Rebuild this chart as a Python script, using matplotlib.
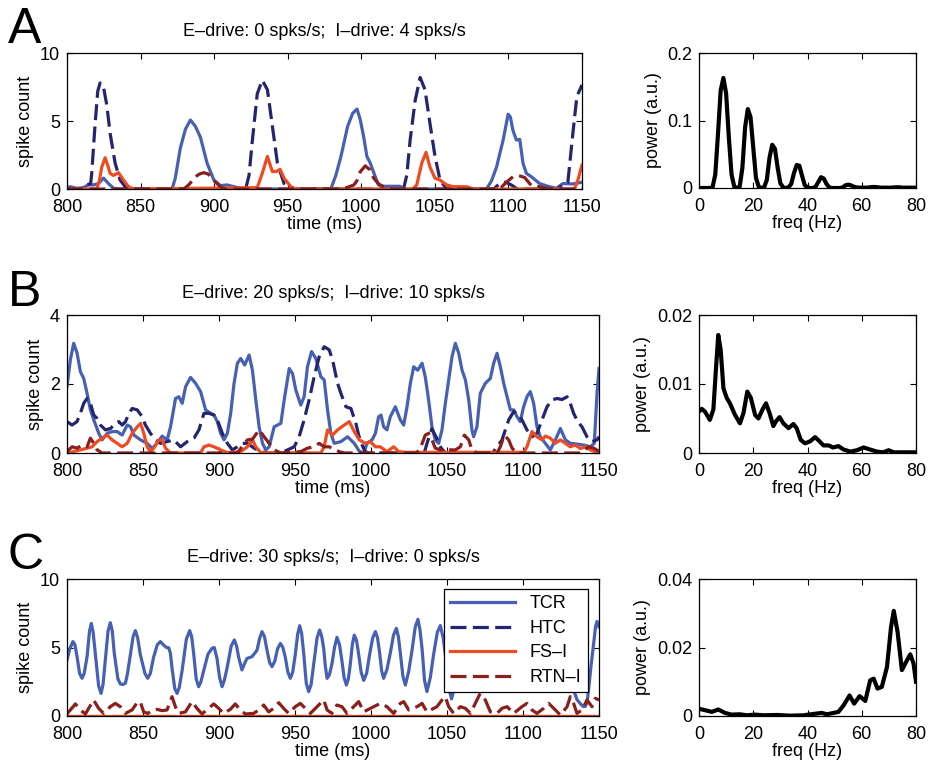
import matplotlib
matplotlib.use("Agg")
import matplotlib.pyplot as plt
from matplotlib.lines import Line2D

plt.rcParams['font.family'] = ['Liberation Sans', 'DejaVu Sans']
plt.rcParams['font.size'] = 13

C_TCR = '#4661b4'
C_HTC = '#25246f'
C_FSI = '#ef4b22'
C_RTN = '#8a1f1c'

# ---------------- Panel A (E-drive 0, I-drive 4) ----------------
a_tcr_t = [800, 802, 806.6, 811, 814.5, 818, 821.4, 824.8, 828.2, 831.6, 836, 871.4, 873.6, 877, 880.5,
           883.9, 887.3, 890.7, 895.2, 899.8, 904.3, 908.9, 912.3, 920.2, 979.3, 982.7, 986.2, 990.7,
           994.1, 997.1, 999.3, 1001.6, 1003.8, 1006.1, 1009.5, 1011.7, 1015.1, 1020.8, 1026.4, 1028.7,
           1085.1, 1088.5, 1091.9, 1096.4, 1099.8, 1101.3, 1103.1, 1105.4, 1107.7, 1109.9, 1112.2,
           1115.6, 1121.2, 1126.8, 1132.5, 1137, 1143.8, 1150]
a_tcr_v = [0.1, 0.17, 0.05, 0.1, 0.3, 0.3, 0.4, 0.8, 0.4, 0.05, 0, 0, 0.8, 3.0, 4.4,
           5.07, 4.6, 3.8, 1.9, 0.66, 0.25, 0.3, 0.2, 0, 0, 1.0, 2.4, 4.6,
           5.56, 5.88, 5.1, 3.85, 2.4, 1.9, 0.9, 0.3, 0.2, 0.2, 0.2, 0,
           0, 0.6, 1.6, 3.6, 5.5, 5.3, 4.3, 3.6, 3.65, 1.9, 1.15,
           0.9, 0.4, 0.2, 0.05, 0.4, 0.37, 0.5]

a_htc_t = [800, 811.1, 813.4, 816.1, 816.8, 819.1, 820.9, 822.5, 824.8, 827, 829.3, 832.7, 836.1, 840.7,
           921.4, 923.7, 926, 929.3, 932.7, 936.2, 939.6, 943, 947.5, 952.1,
           1028.7, 1030.9, 1033.2, 1036.6, 1040, 1043.3, 1046.7, 1050.1, 1053.5, 1058,
           1090, 1094, 1098, 1102, 1106, 1133.6, 1137, 1140.4, 1143.8, 1146.5, 1150]
a_htc_v = [0, 0, 0.3, 0.4, 1.15, 4.8, 7.2, 7.8, 7.5, 6.2, 4.1, 1.9, 0.66, 0,
           0, 1.0, 3.6, 7.0, 8.0, 7.3, 4.6, 1.9, 0.4, 0,
           0, 1.0, 3.6, 6.5, 8.2, 7.3, 4.8, 2.4, 0.66, 0,
           0, 0.4, 0.5, 0.3, 0, 0, 0.3, 0.5, 4.1, 6.8, 7.65]

a_fsi_t = [800, 820.2, 822, 823.6, 825.9, 827.5, 829.3, 831.6, 835, 838.4, 841.8, 845.2,
           929.3, 932.7, 936.2, 939.6, 942.5, 944.8, 947.5, 952.1, 955.5,
           1035, 1037.7, 1041.1, 1044, 1046.7, 1050.1, 1053.5, 1058, 1062.5, 1071.5, 1076.1,
           1144.9, 1147.2, 1150]
a_fsi_v = [0, 0, 0.6, 1.6, 2.3, 1.8, 1.15, 1.0, 1.2, 0.66, 0.17, 0,
           0.1, 1.15, 2.4, 1.27, 1.3, 1.45, 0.8, 0.17, 0,
           0, 0.3, 1.9, 2.7, 1.6, 0.8, 0.66, 0.3, 0.17, 0.17, 0,
           0, 0.66, 1.76]

a_rtn_t = [800, 879.3, 882.7, 887.3, 890, 893, 896, 899, 902, 905, 908,
           985, 990, 995, 997, 999.3, 1002.7, 1006, 1008.4, 1011.8, 1015, 1020,
           1094, 1098.6, 1103.1, 1106.5, 1111, 1115.6, 1121.2, 1125.7, 1130, 1150]
a_rtn_v = [0, 0, 0.3, 0.9, 1.1, 1.2, 1.1, 0.7, 0.4, 0.1, 0,
           0, 0.1, 0.3, 0.6, 1.27, 1.7, 1.4, 0.8, 0.37, 0.17, 0,
           0, 0.5, 0.9, 1.0, 0.85, 0.25, 0.17, 0.05, 0, 0]

# ---------------- Panel B (E-drive 20, I-drive 10) ----------------
b_tcr_t = [800.0, 802.2, 804.4, 806.6, 808.8, 811.0, 813.2, 815.4, 817.6, 820.9, 823.1, 826.4, 829.7,
           833.0, 836.3, 839.6, 841.8, 844.0, 848.4, 852.7, 856.0, 859.3, 862.6, 865.9, 868.1, 871.4,
           873.6, 875.8, 878.0, 881.3, 884.6, 887.9, 891.2, 894.5, 896.7, 898.9, 901.1, 903.3, 905.5,
           907.7, 909.9, 912.1, 914.3, 916.9, 919.8, 922.0, 924.2, 926.4, 928.6, 930.8, 933.0, 936.3,
           938.5, 940.7, 942.9, 946.2, 948.4, 950.5, 953.8, 956.0, 958.2, 960.9, 963.7, 967.0, 969.2,
           971.4, 973.6, 975.8, 980.2, 984.6, 989.0, 992.3, 995.2, 997.4, 1000.7, 1002.9, 1005.0,
           1006.6, 1008.3, 1010.5, 1012.7, 1016.0, 1019.3, 1021.5, 1023.7, 1025.9, 1028.1, 1030.7,
           1033.6, 1035.7, 1037.9, 1040.1, 1042.3, 1044.5, 1046.7, 1048.9, 1051.1, 1053.3, 1055.5,
           1057.7, 1059.9, 1062.1, 1064.3, 1066.4, 1067.5, 1069.7, 1071.9, 1075.2, 1078.5, 1080.7,
           1082.9, 1085.1, 1087.3, 1089.5, 1091.7, 1093.9, 1096.1, 1098.2, 1100.4, 1102.6, 1104.8,
           1107.0, 1109.2, 1111.4, 1114.7, 1118.0, 1121.3, 1124.6, 1127.9, 1131.1, 1135.5, 1139.9,
           1144.3, 1146.9, 1148.7, 1150.0]
b_tcr_v = [1.92, 2.7, 3.18, 2.9, 2.36, 2.16, 1.73, 1.25, 0.96, 0.57, 0.38, 0.57, 0.62,
           0.62, 0.52, 0.81, 0.76, 0.52, 0.38, 0.28, 0.14, 0.28, 0.49, 0.38, 0.76, 1.58,
           1.63, 1.44, 1.92, 2.19, 2.02, 1.78, 1.25, 1.15, 1.1, 0.91, 0.57, 0.38, 0.57,
           1.15, 2.02, 2.6, 2.74, 2.55, 2.84, 2.4, 1.54, 0.76, 0.28, 0.09, 0.18, 0.76,
           0.81, 0.86, 1.54, 2.45, 2.3, 1.83, 1.39, 1.63, 2.5, 2.94, 2.74, 2.21, 2.12,
           1.25, 0.57, 0.28, 0.33, 0.47, 0.28, 0.05, 0.0, 0.28, 0.38, 0.57, 1.05,
           1.1, 0.76, 0.67, 1.05, 1.34, 0.96, 0.81, 1.34, 2.02, 2.5, 2.4,
           2.6, 2.21, 1.54, 0.76, 0.38, 0.28, 0.67, 1.44, 2.12, 2.79, 3.18,
           2.89, 2.4, 2.12, 1.54, 0.67, 0.47, 0.76, 1.73, 2.02, 2.16, 2.6,
           2.89, 2.5, 2.02, 1.63, 1.25, 1.25, 1.05, 0.91, 1.34, 1.63, 1.78,
           1.44, 0.76, 0.47, 0.28, 0.09, 0.38, 0.71, 0.38, 0.28, 0.26, 0.23,
           0.18, 0.28, 1.73, 2.45]

b_htc_t = [800, 803.3, 806.6, 808.8, 811.0, 813.2, 815.4, 817.6, 819.8, 822.0, 825.3, 828.6, 831.9,
           834.1, 836.3, 838.5, 840.7, 842.9, 846.2, 849.5, 851.6, 854.9, 858.2, 861.5, 865.9, 870.3,
           874.7, 879.1, 883.5, 886.8, 890.1, 893.4, 896.7, 898.9, 902.2, 905.5, 908.8, 912.1, 915.4,
           918.7, 923.1, 927.5, 931.9, 940.7, 945.1, 949.5, 952.7, 956.0, 959.3, 962.6, 965.9, 969.2,
           972.5, 974.7, 978.0, 980.2, 983.5, 986.8, 990.1, 992, 994, 996, 998,
           1035, 1037, 1040, 1043, 1046, 1049,
           1080, 1082.9, 1086.2, 1088.4, 1090.6, 1093.9, 1096.1, 1099.3, 1102.6, 1105.9, 1109.2,
           1112.5, 1115.8, 1119.1, 1122.4, 1125.7, 1129.0, 1131.1, 1133.3, 1136.0, 1138.8, 1142.1,
           1145.4, 1148.7, 1150]
b_htc_v = [0.91, 0.81, 0.91, 1.15, 1.44, 1.58, 1.44, 1.1, 1.0, 0.81, 0.67, 0.71, 0.86,
           0.91, 0.81, 0.91, 1.15, 1.29, 1.25, 1.05, 0.81, 0.57, 0.38, 0.28, 0.33, 0.38,
           0.18, 0.33, 0.43, 0.67, 1.15, 1.15, 1.1, 0.96, 0.57, 0.28, 0.09, 0.18, 0.28,
           0.28, 0.14, 0.04, 0.0, 0.0, 0.09, 0.18, 0.47, 0.96, 1.54, 2.21, 2.79, 3.08,
           2.99, 2.7, 2.02, 1.73, 1.34, 1.29, 0.85, 0.5, 0.25, 0.05, 0.0,
           0.0, 0.3, 0.7, 0.45, 0.15, 0.0,
           0.0, 0.18, 0.38, 0.67, 0.96, 1.2, 1.15, 0.96, 0.67, 0.47, 0.57,
           0.96, 1.34, 1.54, 1.58, 1.55, 1.63, 1.44, 1.15, 0.91, 0.76, 0.47,
           0.33, 0.38, 0.47]

b_fsi_t = [800, 804.4, 808.8, 813.2, 816.5, 819.8, 823.1, 826.4, 829.7, 833.0, 836.3, 839.6, 842.9,
           846.2, 848.4, 850.5, 852.7, 854.9, 857.1, 860.4, 862.6, 864.8, 868.1, 887.9, 890.1, 893.4,
           896.7, 901.1, 905.5, 914.3, 918.7, 922.0, 924.2, 927.5, 967.0, 969.2, 971.4, 974.7, 978.0,
           982.4, 985.7, 989.0, 992.3, 996.3, 999.6, 1002.9, 1006.1, 1010.5, 1014.9, 1018.2, 1022.6,
           1100.4, 1102.6, 1105.9, 1109.2, 1112.5, 1114.7, 1118.0, 1121.3, 1124.6, 1127.9, 1131.1,
           1134.4, 1137.7, 1141.0, 1144.3, 1150]
b_fsi_v = [0, 0.04, 0.09, 0.14, 0.18, 0.33, 0.43, 0.52, 0.38, 0.28, 0.18, 0.28, 0.57,
           0.76, 0.86, 0.57, 0.18, 0.04, 0.14, 0.38, 0.38, 0.14, 0.0, 0.0, 0.18, 0.23,
           0.18, 0.09, 0.01, 0.04, 0.18, 0.38, 0.18, 0.01, 0.0, 0.18, 0.67, 0.52, 0.67,
           0.81, 0.91, 0.62, 0.38, 0.28, 0.33, 0.18, 0.18, 0.04, 0.18, 0.04, 0.02,
           0.02, 0.18, 0.62, 0.47, 0.38, 0.49, 0.43, 0.28, 0.38, 0.28, 0.18,
           0.23, 0.13, 0.18, 0.09, 0.0]

b_rtn_t = [800, 803.3, 806.6, 809.9, 813.2, 815.4, 817.6, 819.8, 823.1, 912.1, 915.4, 918.7, 922,
           926.4, 929.7, 933, 936.3, 940.7, 953.8, 958.2, 962.6, 965.9, 969.2, 972.5, 975.8, 979.1,
           982.4, 1030, 1032.5, 1035.7, 1037.9, 1040.1, 1042.3, 1045.6, 1050, 1055.5, 1058.8,
           1061.4, 1064.3, 1066.4, 1069.7, 1082.9, 1085.1, 1087.7, 1090.6, 1092.8, 1096.1, 1137.7,
           1143.2, 1146.5, 1150]
b_rtn_v = [0.04, 0.18, 0.14, 0.23, 0.18, 0.43, 0.28, 0.09, 0.0, 0.0, 0.2, 0.38, 0.4,
           0.67, 0.47, 0.28, 0.09, 0.0, 0.04, 0.14, 0.18, 0.28, 0.18, 0.18, 0.1, 0.04,
           0.0, 0.0, 0.14, 0.52, 0.57, 0.38, 0.14, 0.09, 0.09, 0.09, 0.18,
           0.52, 0.38, 0.09, 0.0, 0.0, 0.18, 0.52, 0.38, 0.14, 0.0, 0.0,
           0.18, 0.14, 0.05]

# ---------------- Panel C (E-drive 30, I-drive 0) ----------------
c_tcr_t = [800, 801.8, 803.9, 805.2, 806.6, 808.3, 809.9, 811.3, 813.2, 814.8, 816.0, 817.2, 818.6,
           820.8, 822.4, 823.7, 825.2, 827.0, 828.5, 829.8, 831.1, 833.5, 835.1, 836.8, 838.4, 839.8,
           841.7, 843.5, 845.0, 846.5, 848.2, 851.3, 853.1, 854.8, 857.0, 859.4, 861.4, 863.4, 865.4,
           866.9, 868.0, 869.1, 870.9, 872.4, 873.9, 875.7, 878.5, 880.7, 882.0, 883.3, 885.0, 886.6,
           888.1, 889.9, 892.7, 895.4, 896.9, 898.7, 900.4, 902.0, 903.5, 905.3, 908.0, 910.1, 911.6,
           912.9, 915.1, 916.7, 918.4, 921.7, 925.0, 926.8, 928.3, 929.9, 931.6, 933.3, 934.9, 936.7,
           938.5, 940.4, 942.0, 943.6, 945.3, 946.9, 948.5, 950.2, 951.8, 953.1, 954.4, 955.7, 957.4,
           959.0, 960.6, 962.3, 964.5, 966.2, 967.6, 968.9, 970.0, 971.1, 972.6, 974.3, 976.0, 977.6,
           979.3, 980.9, 982.3, 983.8, 985.1, 986.4, 987.7, 989.0, 990.5, 991.9, 993.5, 995.2, 997.1,
           999.1, 1001.1, 1002.9, 1004.3, 1005.7, 1007.0, 1008.3, 1010.5, 1012.7, 1014.8, 1016.7,
           1018.0, 1019.3, 1021.0, 1022.6, 1024.7, 1027.0, 1029.1, 1030.9, 1032.2, 1033.6, 1035.2,
           1036.8, 1039.0, 1041.2, 1043.6, 1045.6, 1047.5, 1049.5, 1051.3, 1053.0, 1054.7, 1056.5,
           1058.3, 1060, 1061.5, 1063, 1064.5, 1066, 1067.7, 1069.5, 1071.3, 1073, 1074.8, 1076.5,
           1078.3, 1080, 1081.7, 1083.5, 1085.3, 1087, 1088.5, 1090, 1091.5, 1093, 1094.8, 1096.5,
           1098.3, 1100, 1101.8, 1103.5, 1105.3, 1107, 1108.8, 1110.5, 1112.3, 1114, 1115.5, 1117,
           1118.5, 1120, 1121.7, 1123.5, 1125.3, 1127, 1128.5, 1130, 1131.5, 1133, 1135.5, 1137.7,
           1139.5, 1141, 1142.2, 1143.2, 1144.9, 1146.5, 1147.7, 1148.7, 1149.5, 1150]
c_tcr_v = [4.09, 4.9, 5.43, 5.2, 4.33, 3.1, 2.75, 3.1, 4.33, 6.2, 6.76, 6.1, 4.57,
           2.2, 1.65, 2.3, 4.09, 6.2, 6.81, 6.2, 4.57, 2.7, 2.34, 2.3, 2.39, 3.1,
           4.5, 5.8, 6.23, 5.7, 4.5, 3.1, 2.75, 3.1, 4.3, 5.2, 5.43, 5.2, 5.0,
           4.98, 4.6, 3.5, 2.0, 1.65, 2.1, 3.3, 5.6, 6.23, 5.8, 4.6, 2.7, 2.14,
           2.5, 3.3, 4.5, 4.94, 5.0, 4.2, 2.8, 2.14, 2.6, 3.5, 5.1, 5.55, 5.1,
           4.3, 3.36, 3.8, 4.2, 4.33, 4.8, 5.7, 6.16, 5.8, 4.8, 3.9, 3.6, 4.0,
           4.9, 5.3, 5.0, 4.3, 3.2, 2.75, 3.2, 4.5, 6.0, 6.59, 6.0, 4.6, 2.4,
           1.78, 2.3, 3.8, 5.7, 6.28, 5.8, 4.9, 3.6, 2.75, 3.0, 3.8, 5.0, 5.74,
           5.2, 4.0, 2.8, 2.26, 2.7, 3.8, 5.2, 5.9, 5.5, 4.5, 3.2, 2.6, 3.1,
           4.5, 5.7, 6.16, 5.7, 4.6, 3.3, 2.75, 3.4, 4.6, 5.9, 6.4,
           5.8, 4.6, 2.9, 2.26, 3.2, 4.8, 6.5, 7.06, 6.3, 4.9, 2.6,
           1.78, 2.8, 4.5, 6.1, 6.6, 5.7, 4.0, 2.0, 1.25, 2.0, 3.5,
           5.8, 6.5, 5.9, 4.5, 3.0, 2.5, 3.0, 4.4, 5.9, 6.5, 5.9, 4.6,
           3.0, 2.5, 3.0, 4.2, 5.7, 6.3, 5.7, 4.2, 2.6, 2.0, 2.7, 4.3,
           6.2, 6.8, 6.1, 4.6, 3.0, 2.5, 3.0, 4.4, 5.9, 6.5, 5.8, 4.3,
           2.8, 2.2, 2.8, 4.5, 6.2, 6.8, 6.0, 4.3, 2.6, 2.0, 1.2, 0.9,
           0.7, 0.7, 1.0, 2.0, 3.8, 5.3, 6.5, 6.9, 6.8, 6.5]

c_htc_t = [800, 1150]
c_htc_v = [0, 0]

c_fsi_t = [800, 1150]
c_fsi_v = [0.02, 0.02]

c_rtn_t = [800, 802.2, 805.5, 808.8, 812.1, 814.9, 817.5, 820.8, 824.1, 828.5, 831.8, 835.1, 838.4,
           842.8, 846.1, 848.2, 850.4, 853.1, 855.9, 859.2, 862.5, 865.8, 869.1, 871.3, 873.5, 877.9,
           882.2, 885.5, 888.8, 893.2, 896.5, 899.8, 903.1, 907.5, 910.7, 914.0, 917.3, 922.8, 926.1,
           929.4, 932.7, 936.0, 939.3, 942.5, 945.8, 950.2, 953.5, 956.8, 960.1, 964.5, 968.9, 971.1,
           974.3, 977.6, 980.9, 984.2, 988.6, 991.9, 995.2, 1001.8, 1006.1, 1010.5, 1014.9, 1019.3,
           1021.5, 1024.8, 1030.3, 1033.6, 1036.8, 1043.4, 1046.7, 1048.9, 1051.1, 1054.4, 1058.8,
           1062.1, 1065.4, 1069.7, 1071.9, 1075.2, 1078.5, 1082.9, 1086.2, 1089.5, 1093.9, 1099.3,
           1102.6, 1105.9, 1109.2, 1113.6, 1116.9, 1120.2, 1124.6, 1129.0, 1131.1, 1133.3, 1135.5,
           1138.8, 1142.1, 1145.4, 1147.6, 1150]
c_rtn_v = [0.15, 0.44, 0.88, 0.44, 0.15, 0.68, 1.17, 0.56, 0.19, 0.68, 0.92, 0.68, 0.19,
           0.44, 0.97, 1.05, 0.3, 0.19, 0.39, 0.49, 0.39, 0.44, 1.41, 0.68, 0.19, 0.3,
           1.05, 0.56, 0.15, 0.56, 0.88, 0.56, 0.19, 0.49, 0.88, 0.44, 0.15, 0.19, 0.44,
           0.8, 0.3, 0.56, 0.97, 0.56, 0.19, 0.68, 0.92, 0.56, 0.19, 0.68, 1.17, 0.44,
           0.19, 0.8, 0.68, 0.19, 0.68, 1.05, 0.3, 0.68, 0.92, 0.68, 0.19, 0.92,
           1.05, 0.44, 0.68, 0.92, 0.3, 0.68, 1.17, 1.41, 0.68, 0.19, 0.68,
           0.56, 0.19, 1.17, 1.65, 1.17, 0.3, 0.19, 0.56, 0.68, 0.19, 0.68,
           0.92, 0.44, 0.19, 0.56, 0.92, 0.56, 0.07, 0.68, 1.41, 0.92, 0.19,
           0.44, 1.17, 0.68, 1.29, 1.17]

# ---------------- Power spectra ----------------
a_freq = list(range(0, 81))
a_pow = [0, 0, 0, 0, 0, 0.001, 0.02, 0.08, 0.145, 0.163, 0.14, 0.075, 0.02, 0.002, 0, 0.002,
         0.03, 0.09, 0.117, 0.105, 0.06, 0.015, 0.002, 0, 0.001, 0.012, 0.045, 0.064, 0.058, 0.03,
         0.007, 0.001, 0, 0.001, 0.006, 0.022, 0.034, 0.033, 0.018, 0.004, 0.001, 0, 0, 0.002,
         0.009, 0.016, 0.014, 0.006, 0.001, 0, 0, 0, 0, 0.001, 0.004, 0.005, 0.004, 0.002, 0.001,
         0.0005, 0.0005, 0.0005, 0.0005, 0.001, 0.0015, 0.0015, 0.001, 0.0005, 0.0005, 0.0005,
         0.0005, 0.0005, 0.001, 0.001, 0.001, 0.0005, 0.0005, 0.0005, 0.0005, 0.0005, 0.0005]

b_freq = [0, 1, 2.2, 4, 5.3, 6.3, 7.1, 8, 9, 10.2, 11.4, 13.3, 15.1, 16.4, 17.8, 19.1, 20.7, 21.9,
          23.4, 24.7, 26, 27.4, 28.4, 29.7, 31.1, 33, 34.8, 36, 37.5, 39.1, 41, 42.8, 44.4, 45.9,
          47.8, 49.4, 51.4, 53.3, 55.8, 58.2, 60.7, 63.1, 65.6, 68, 69.9, 71.8, 74.2, 76.7, 80]
b_pow = [0.006, 0.0064, 0.006, 0.0048, 0.0063, 0.0125, 0.0171, 0.0149, 0.0094, 0.008, 0.0072,
         0.0055, 0.0043, 0.0058, 0.0089, 0.008, 0.0055, 0.005, 0.0063, 0.0072, 0.0058, 0.0039,
         0.0046, 0.0052, 0.0043, 0.0036, 0.0042, 0.0036, 0.0019, 0.0014, 0.0017, 0.0023, 0.0017,
         0.0011, 0.0011, 0.0008, 0.001, 0.0005, 0.0002, 0.0004, 0.0008, 0.0005, 0.0002, 0.0001,
         0.0004, 0.0001, 0.0001, 0.0001, 0.0001]

c_freq = [0, 2.2, 4.7, 7.1, 9.6, 12, 15.1, 17.6, 20.7, 23.8, 28.7, 33.6, 38.5, 42.2, 45.3, 47.1,
          49.6, 51.4, 53.3, 55.5, 57.2, 59.2, 61.3, 63.1, 64.4, 65.8, 67.4, 69.3, 70.8, 71.8, 73.2,
          74.8, 76.7, 77.9, 79.1, 80]
c_pow = [0.0021, 0.0017, 0.0012, 0.0019, 0.0009, 0.0004, 0.0005, 0.0002, 0.0004, 0.0002, 0.0003,
         0.0001, 0.0002, 0.0006, 0.0009, 0.0005, 0.0009, 0.0012, 0.0031, 0.006, 0.0036, 0.0058,
         0.0044, 0.0104, 0.0109, 0.008, 0.0085, 0.0143, 0.026, 0.0307, 0.0246, 0.0134, 0.0163,
         0.018, 0.0153, 0.01]

titles = ['E\u2013drive: 0 spks/s;  I\u2013drive: 4 spks/s',
          'E\u2013drive: 20 spks/s;  I\u2013drive: 10 spks/s',
          'E\u2013drive: 30 spks/s;  I\u2013drive: 0 spks/s']
letters = ['A', 'B', 'C']
legend_labels = ['TCR', 'HTC', 'FS\u2013I', 'RTN\u2013I']

W, H = 932, 773
fig = plt.figure(figsize=(W / 100, H / 100), dpi=100)


def frac(x0, y_top, w, h):
    return [x0 / W, 1 - (y_top + h) / H, w / W, h / H]


left_rects = [frac(67, 53, 515, 136), frac(67, 315, 532, 138), frac(67, 579, 532, 137)]
right_rects = [frac(699, 53, 217, 135), frac(699, 315, 217, 138), frac(699, 579, 217, 137)]
letter_y = [7, 270, 533]

series = [
    (a_tcr_t, a_tcr_v, a_htc_t, a_htc_v, a_fsi_t, a_fsi_v, a_rtn_t, a_rtn_v),
    (b_tcr_t, b_tcr_v, b_htc_t, b_htc_v, b_fsi_t, b_fsi_v, b_rtn_t, b_rtn_v),
    (c_tcr_t, c_tcr_v, c_htc_t, c_htc_v, c_fsi_t, c_fsi_v, c_rtn_t, c_rtn_v),
]
ylims = [(0, 10), (0, 4), (0, 10)]
yticks = [[0, 5, 10], [0, 2, 4], [0, 5, 10]]
spectra = [(a_freq, a_pow), (b_freq, b_pow), (c_freq, c_pow)]
sp_ylims = [(0, 0.2), (0, 0.02), (0, 0.04)]
sp_yticks = [[0, 0.1, 0.2], [0, 0.01, 0.02], [0, 0.02, 0.04]]
sp_ylabels = [['0', '0.1', '0.2'], ['0', '0.01', '0.02'], ['0', '0.02', '0.04']]

LW = 2.3
dash = (5, 2)


def style(ax):
    ax.tick_params(direction='in', length=4, width=0.8, top=True, right=True, labelsize=13)
    ax.tick_params(axis='x', pad=7)
    ax.tick_params(axis='y', pad=5)
    for s in ax.spines.values():
        s.set_linewidth(0.9)


for i in range(3):
    tt, tv, ht, hv, ft, fv, rt, rv = series[i]
    ax = fig.add_axes(left_rects[i])
    ax.plot(tt, tv, color=C_TCR, lw=LW, solid_joinstyle='round')
    ax.plot(ht, hv, color=C_HTC, lw=LW, dashes=dash)
    ax.plot(ft, fv, color=C_FSI, lw=LW, solid_joinstyle='round')
    ax.plot(rt, rv, color=C_RTN, lw=LW, dashes=dash)
    ax.set_xlim(800, 1150)
    ax.set_ylim(*ylims[i])
    ax.set_xticks([800, 850, 900, 950, 1000, 1050, 1100, 1150])
    ax.set_yticks(yticks[i])
    ax.set_xlabel('time (ms)', fontsize=13, labelpad=0)
    ax.set_ylabel('spike count', fontsize=13, labelpad=4)
    ax.set_title(titles[i], fontsize=13, pad=12)
    style(ax)
    fig.text(8 / W, 1 - letter_y[i] / H, letters[i], fontsize=36, va='top', ha='left')
    if i == 2:
        handles = [Line2D([], [], color=C_TCR, lw=LW),
                   Line2D([], [], color=C_HTC, lw=LW, dashes=dash),
                   Line2D([], [], color=C_FSI, lw=LW),
                   Line2D([], [], color=C_RTN, lw=LW, dashes=dash)]
        leg = ax.legend(handles, legend_labels, loc='upper right',
                        bbox_to_anchor=((588 - 67) / 532, (716 - 589) / 137),
                        borderaxespad=0, fancybox=False, framealpha=1, edgecolor='black',
                        fontsize=13, handlelength=3.6, handletextpad=0.8, labelspacing=0.42,
                        borderpad=0.35)
        leg.get_frame().set_linewidth(0.9)

    fr, pw = spectra[i]
    axs = fig.add_axes(right_rects[i])
    axs.plot(fr, pw, color='black', lw=3, solid_joinstyle='round')
    axs.set_xlim(0, 80)
    axs.set_ylim(*sp_ylims[i])
    axs.set_xticks([0, 20, 40, 60, 80])
    axs.set_yticks(sp_yticks[i])
    axs.set_yticklabels(sp_ylabels[i])
    axs.set_xlabel('freq (Hz)', fontsize=13, labelpad=0)
    axs.set_ylabel('power (a.u.)', fontsize=13, labelpad=4)
    style(axs)

fig.savefig('out.png', dpi=100)
